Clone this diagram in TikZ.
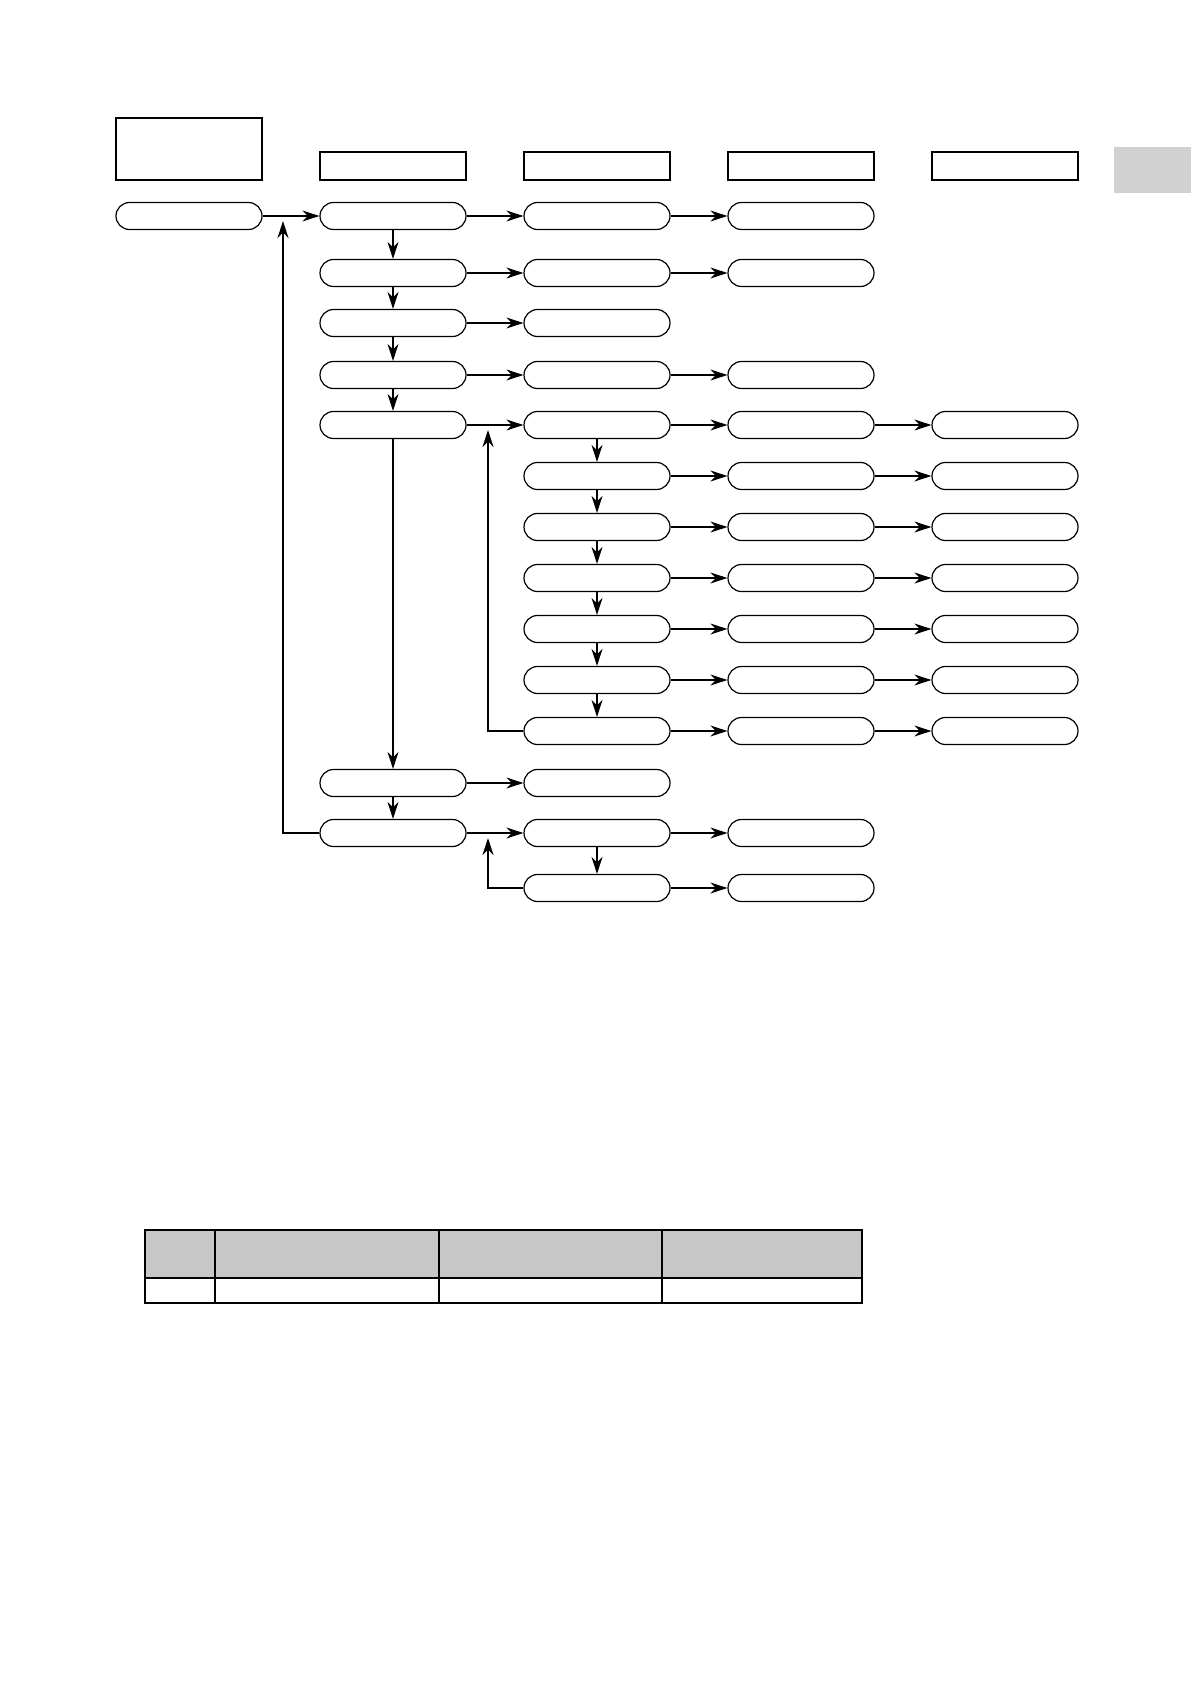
\documentclass[tikz,border=0pt]{standalone}
\usetikzlibrary{arrows.meta,shapes.misc}
\begin{document}
\begin{tikzpicture}[x=0.5pt,y=-0.5pt,
    pill/.style={draw,rounded rectangle,minimum width=73pt,minimum height=13.5pt,inner sep=0pt,line width=0.6pt},
    headbox/.style={draw,rectangle,minimum width=73pt,minimum height=14pt,inner sep=0pt,line width=0.6pt},
    flow/.style={-{Stealth[length=8.5pt,width=5.5pt]},line width=0.6pt}]

    \useasboundingbox (0,0) rectangle (1191,1684);

    % grey tab at the page edge
    \fill[black!18] (1114,147) rectangle (1191,193);

    % header boxes
    \node[headbox,minimum height=31pt] (h0) at (189,149) {};
    \foreach \c/\x in {1/393,2/597,3/801,4/1005}{
      \node[headbox] (h\c) at (\x,166) {};
    }

    % first column
    \node[pill] (p0-1) at (189,216) {};

    % second column
    \foreach \r/\y in {1/216,2/273,3/323,4/375,5/425,12/783,13/833}{
      \node[pill] (p1-\r) at (393,\y) {};
    }

    % third column
    \foreach \r/\y in {1/216,2/273,3/323,4/375,5/425,6/476,7/527,8/578,9/629,10/680,11/731,12/783,13/833,14/888}{
      \node[pill] (p2-\r) at (597,\y) {};
    }

    % fourth column
    \foreach \r/\y in {1/216,2/273,4/375,5/425,6/476,7/527,8/578,9/629,10/680,11/731,13/833,14/888}{
      \node[pill] (p3-\r) at (801,\y) {};
    }

    % fifth column
    \foreach \r/\y in {5/425,6/476,7/527,8/578,9/629,10/680,11/731}{
      \node[pill] (p4-\r) at (1005,\y) {};
    }

    % arrows to the right
    \draw[flow] (p0-1.east) -- (p1-1.west);
    \foreach \r in {1,2,3,4,5,12,13}{
      \draw[flow] (p1-\r.east) -- (p2-\r.west);
    }
    \foreach \r in {1,2,4,5,6,7,8,9,10,11,13,14}{
      \draw[flow] (p2-\r.east) -- (p3-\r.west);
    }
    \foreach \r in {5,6,7,8,9,10,11}{
      \draw[flow] (p3-\r.east) -- (p4-\r.west);
    }

    % arrows downwards
    \foreach \a/\b in {1/2,2/3,3/4,4/5,5/12,12/13}{
      \draw[flow] (p1-\a.south) -- (p1-\b.north);
    }
    \foreach \a/\b in {5/6,6/7,7/8,8/9,9/10,10/11,13/14}{
      \draw[flow] (p2-\a.south) -- (p2-\b.north);
    }

    % loops back
    \coordinate (fb0) at (283,221);
    \coordinate (fb1) at (488,430);
    \coordinate (fb2) at (488,838);
    \draw[flow] (p1-13.west) -| (fb0);
    \draw[flow] (p2-11.west) -| (fb1);
    \draw[flow] (p2-14.west) -| (fb2);

    % table
    \fill[black!22] (145,1230) rectangle (862,1278);
    \draw[line width=1pt] (145,1230) rectangle (862,1303);
    \draw[line width=1pt] (145,1278) -- (862,1278);
    \foreach \x in {215,439,662}{
      \draw[line width=0.8pt] (\x,1230) -- (\x,1303);
    }
\end{tikzpicture}
\end{document}
